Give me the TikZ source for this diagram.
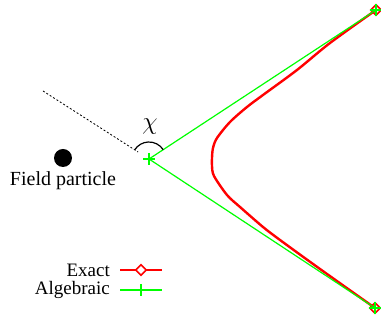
\documentclass[tikz,border=0pt]{standalone}
\usepackage{fontspec}
\setmainfont{Liberation Serif}
\usetikzlibrary{positioning,shapes.geometric}
\tikzset{
	exactline/.style={red, line width=2.4pt, line join=round},
	algline/.style={green, line width=1.2pt},
	exactmark/.style={diamond, draw=red, line width=1.6pt, inner sep=0pt, minimum size=11pt},
	legendtext/.style={anchor=east, inner sep=0pt, font=\fontsize{19}{20}\selectfont},
}
\begin{document}
\begin{tikzpicture}[x=1pt, y=1pt, auto, >=stealth, font=\fontsize{20}{22}\selectfont]
				\useasboundingbox (0,0) rectangle (381,320);
				\coordinate (vtx) at (149,161);
				\coordinate (upend) at (376,310);
				\coordinate (lowend) at (375,12);
				\coordinate (dashend) at (43,229);
				% exact path
				\draw[exactline] plot[smooth] coordinates {(376,310) (330,277) (297,250) (263,225) (247,213) (230,198) (217,182) (213,172) (212,162) (212,154) (214,144) (227,125) (240,113) (263,93) (280,80) (320,51) (375,12)};
				\node[exactmark] at (upend) {};
				\node[exactmark] at (lowend) {};
				% algebraic path
				\draw[algline] (upend) -- (vtx) -- (lowend);
				\draw[algline, line width=2pt] (vtx) +(-6,0) -- +(6,0) +(0,-6) -- +(0,6);
				\draw[algline, line width=2pt] (upend) +(-6,0) -- +(6,0) +(0,-6) -- +(0,6);
				\draw[algline, line width=2pt] (lowend) +(-6,0) -- +(6,0) +(0,-6) -- +(0,6);
				\draw[black, line width=0.8pt, dash pattern=on 2pt off 2pt, shorten >=13pt] (dashend) -- (vtx);
				\draw[black, line width=1.2pt] ([shift={(33:17)}]vtx) arc (33:147:17);
				\node[font=\fontsize{28}{30}\selectfont] (chi) at (150,193) {$\chi$};
				% field particle
				\node[circle, fill=black, minimum size=18pt, inner sep=0pt] (fp) at (63,162) {};
				\node[below=1pt of fp] (fplabel) {Field particle};
				% legend
				\node[legendtext] (exact) at (110,50) {Exact};
				\node[legendtext] (alg) at (110,30) {Algebraic};
				\coordinate (exa) at (120,50);
				\coordinate (exb) at (162,50);
				\coordinate (ala) at (120,30);
				\coordinate (alb) at (162,30);
				\draw[exactline] (exa) -- (exb);
				\node[exactmark, fill=white] at (141,50) {};
				\draw[algline] (ala) -- (alb);
				\draw[algline, line width=2pt] (141,30) +(0,-6) -- +(0,6);
			\end{tikzpicture}
\end{document}
